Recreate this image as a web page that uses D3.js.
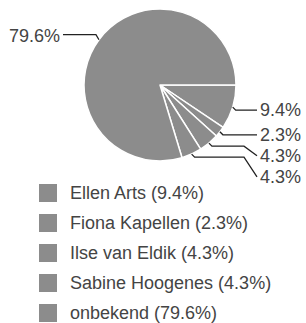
<!DOCTYPE html>
<html>
<head>
<meta charset="utf-8">
<script src="https://cdn.jsdelivr.net/npm/d3@7"></script>
<style>
  body { margin: 0; background: #fff; }
  svg text { font-family: "Liberation Sans", Arial, sans-serif; fill: #444; }
</style>
</head>
<body>
<svg id="canvas" width="306" height="323"></svg>
<script>
// Data
let names = ['Ellen Arts', 'Fiona Kapellen', 'Ilse van Eldik', 'Sabine Hoogenes', 'onbekend'];
let shares = [9.4, 2.3, 4.3, 4.3, 79.6];
let colors = ['#8c8c8c', '#8c8c8c', '#8c8c8c', '#8c8c8c', '#8c8c8c'];

let canvas = d3.select('#canvas');
let cx = 160, cy = 85, radius = 76;

let pie = d3.pie()
    .sort(null)
    .value((d) => d)
    .startAngle(Math.PI / 2)
    .endAngle(Math.PI / 2 + 2 * Math.PI);
let arcs = pie(shares);

let arc = d3.arc().innerRadius(0).outerRadius(radius);
let edge = d3.arc().innerRadius(radius).outerRadius(radius);

let g = canvas.append('g').attr('transform', `translate(${cx},${cy})`);

// Draw slices
g.selectAll('path.slice')
    .data(arcs)
    .enter()
    .append('path')
    .attr('class', 'slice')
    .attr('d', arc)
    .attr('fill', (d, i) => colors[i])
    .attr('stroke', '#fff')
    .attr('stroke-width', 1.5)
    .attr('stroke-linejoin', 'round');

// Labels on the right side, pushed apart so they don't overlap
let labelY = [];
let lastY = -Infinity;
arcs.forEach((d, i) => {
    let p = edge.centroid(d);
    if (p[0] > 0) {
        let y = Math.max(p[1] + 3, lastY + 21);
        labelY[i] = y;
        lastY = y;
    }
});

arcs.forEach((d, i) => {
    let p = edge.centroid(d);
    let points, tx, ty, anchor;
    if (p[0] > 0) {
        let ly = labelY[i];
        points = [p, [p[0] + 3, p[1] + 3], [84, p[1] + 3], [97, ly]];
        tx = 100; ty = ly; anchor = 'start';
    } else {
        points = [p, [p[0] - 3, p[1] - 5], [-97, p[1] - 5]];
        tx = -100; ty = p[1] - 4; anchor = 'end';
    }
    g.append('path')
        .attr('d', d3.line()(points))
        .attr('fill', 'none')
        .attr('stroke', '#222')
        .attr('stroke-width', 1.3);
    g.append('text')
        .attr('x', tx)
        .attr('y', ty)
        .attr('dy', '0.35em')
        .attr('text-anchor', anchor)
        .style('font-size', '18px')
        .text(shares[i].toFixed(1) + '%');
});

// Legend
let legend = canvas.append('g').attr('transform', 'translate(39,193)');
let rows = legend.selectAll('g')
    .data(names)
    .enter()
    .append('g')
    .attr('transform', (d, i) => `translate(0,${i * 30})`);

rows.append('rect')
    .attr('x', 0)
    .attr('y', -9)
    .attr('width', 18)
    .attr('height', 18)
    .attr('fill', (d, i) => colors[i]);

rows.append('text')
    .attr('x', 31)
    .attr('y', 0)
    .attr('dy', '0.35em')
    .style('font-size', '18px')
    .text((d, i) => d + ' (' + shares[i].toFixed(1) + '%)');
</script>
</body>
</html>
